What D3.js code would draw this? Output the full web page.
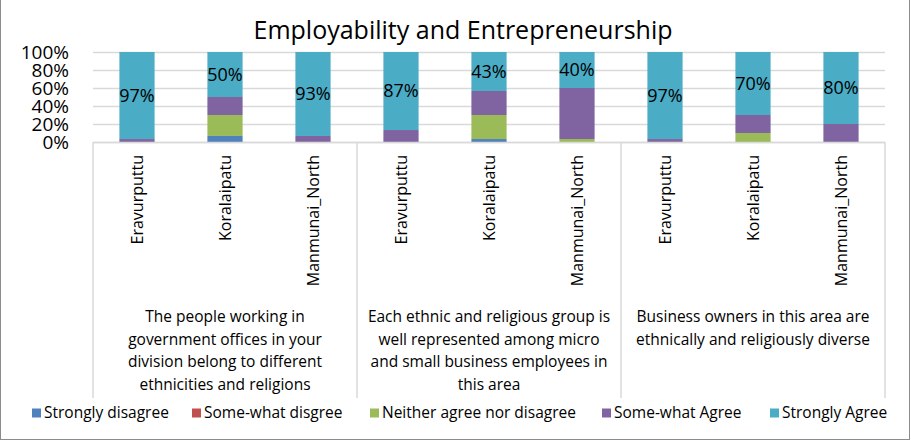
<!DOCTYPE html>
<html>
<head>
<meta charset="utf-8">
<script src="https://cdn.jsdelivr.net/npm/d3@7"></script>
<style>
  body { margin: 0; background: #fff; }
  svg { font-family: "Open Sans", sans-serif; }
</style>
</head>
<body>
<svg id="chart" width="911" height="445"></svg>
<script>
const groups = [
    ["The people working in", "government offices in your", "division belong to different", "ethnicities and religions"],
    ["Each ethnic and religious group is", "well represented among micro", "and small business employees in", "this area"],
    ["Business owners in this area are", "ethnically and religiously diverse"]
];
const divisions = ["Eravurputtu", "Koralaipatu", "Manmunai_North"];
const seriesNames = ["Strongly disagree", "Some-what disgree", "Neither agree nor disagree", "Some-what Agree", "Strongly Agree"];
const colors = ["#4f81bd", "#c0504d", "#9bbb59", "#8064a2", "#4bacc6"];

// percentages per bar (group 1 x3, group 2 x3, group 3 x3)
const stronglyDisagree = [0, 6.7, 0, 0, 3.3, 0, 0, 0, 0];
const somewhatDisagree = [0, 0, 0, 0, 0, 0, 0, 0, 0];
const neither = [0, 23.3, 0, 0, 26.7, 3.3, 0, 10, 0];
const somewhatAgree = [3.3, 20, 6.7, 13.3, 26.7, 56.7, 3.3, 20, 20];
const stronglyAgree = [96.7, 50, 93.3, 86.7, 43.3, 40, 96.7, 70, 80];
const yTicks = [0, 20, 40, 60, 80, 100];

const bars = [];
groups.forEach((g, gi) => divisions.forEach((d, di) => bars.push({ key: gi + "-" + di, division: d, group: gi })));
const rows = bars.map((b, i) => ({
    key: b.key,
    s0: stronglyDisagree[i], s1: somewhatDisagree[i], s2: neither[i], s3: somewhatAgree[i], s4: stronglyAgree[i]
}));

const svg = d3.select("#chart");
const plotLeft = 93, plotRight = 885, plotTop = 52, plotBottom = 142;

// outer border
svg.append("rect").attr("x", 0.5).attr("y", -5).attr("width", 909).attr("height", 444.5)
    .attr("fill", "none").attr("stroke", "#8c8c8c");

svg.append("text").attr("x", 463).attr("y", 39).attr("text-anchor", "middle")
    .style("font-size", "25px").text("Employability and Entrepreneurship");

const x = d3.scaleBand().domain(bars.map(b => b.key)).range([plotLeft, plotRight]).paddingInner(0.6).paddingOuter(0.3);
const y = d3.scaleLinear().domain([0, 100]).range([plotBottom, plotTop]);

// gridlines
svg.append("g").selectAll("line").data(yTicks).join("line")
    .attr("x1", plotLeft).attr("x2", plotRight)
    .attr("y1", d => y(d) + 0.5).attr("y2", d => y(d) + 0.5)
    .attr("stroke", "#d9d9d9").attr("stroke-width", 1.5);

// y axis labels
const yAxis = d3.axisLeft(y).tickValues(yTicks).tickFormat(d => d + "%").tickSize(0).tickPadding(0);
svg.append("g").attr("transform", `translate(${plotLeft - 24},0)`).call(yAxis)
    .call(g => g.select(".domain").remove())
    .selectAll("text").style("font-size", "19px").style("font-family", "Open Sans, sans-serif")
    .attr("fill", "#000").attr("dy", "0.35em");

// stacked bars
const stack = d3.stack().keys(["s0", "s1", "s2", "s3", "s4"]);
const layers = stack(rows);
svg.append("g").selectAll("g").data(layers).join("g")
    .attr("fill", (d, i) => colors[i])
    .selectAll("rect").data(d => d).join("rect")
    .attr("x", d => x(d.data.key))
    .attr("width", x.bandwidth())
    .attr("y", d => y(d[1]))
    .attr("height", d => y(d[0]) - y(d[1]));

// data labels on strongly agree
const agreeLayer = layers[4];
svg.append("g").selectAll("text").data(agreeLayer).join("text")
    .attr("x", d => x(d.data.key) + x.bandwidth() / 2)
    .attr("y", d => (y(d[0]) + y(d[1])) / 2)
    .attr("dy", "0.35em").attr("text-anchor", "middle")
    .style("font-size", "18px")
    .text(d => Math.round(d.data.s4) + "%");

// category axis frame
const step = x.step();
const groupEdges = [0, 3, 6, 9].map(i => plotLeft + i * step);
svg.append("line").attr("x1", plotLeft).attr("x2", plotRight).attr("y1", plotBottom + 0.5).attr("y2", plotBottom + 0.5)
    .attr("stroke", "#d9d9d9").attr("stroke-width", 1.5);
svg.append("g").selectAll("line").data(groupEdges).join("line")
    .attr("x1", d => d).attr("x2", d => d).attr("y1", plotBottom).attr("y2", 398)
    .attr("stroke", "#d9d9d9").attr("stroke-width", 1.5);

// division labels (rotated)
svg.append("g").selectAll("text").data(bars).join("text")
    .attr("transform", d => `translate(${x(d.key) + x.bandwidth() / 2},155) rotate(-90)`)
    .attr("text-anchor", "end").attr("dy", "0.35em")
    .style("font-size", "16px")
    .text(d => d.division);

// group labels
groups.forEach((lines, gi) => {
    const cx = (groupEdges[gi] + groupEdges[gi + 1]) / 2;
    const t = svg.append("text").attr("text-anchor", "middle").style("font-size", "15.5px");
    lines.forEach((l, li) => {
        t.append("tspan").attr("x", cx).attr("y", 322 + li * 22.5).text(l);
    });
});

// legend
const legendX = [32, 192, 370, 602, 770];
const legend = svg.append("g").selectAll("g").data(seriesNames).join("g")
    .attr("transform", (d, i) => `translate(${legendX[i]},413)`);
legend.append("rect").attr("x", 0).attr("y", -4.5).attr("width", 9).attr("height", 9)
    .attr("fill", (d, i) => colors[i]);
legend.append("text").attr("x", 12).attr("dy", "0.35em")
    .style("font-size", "15.5px").text(d => d);
</script>
</body>
</html>
